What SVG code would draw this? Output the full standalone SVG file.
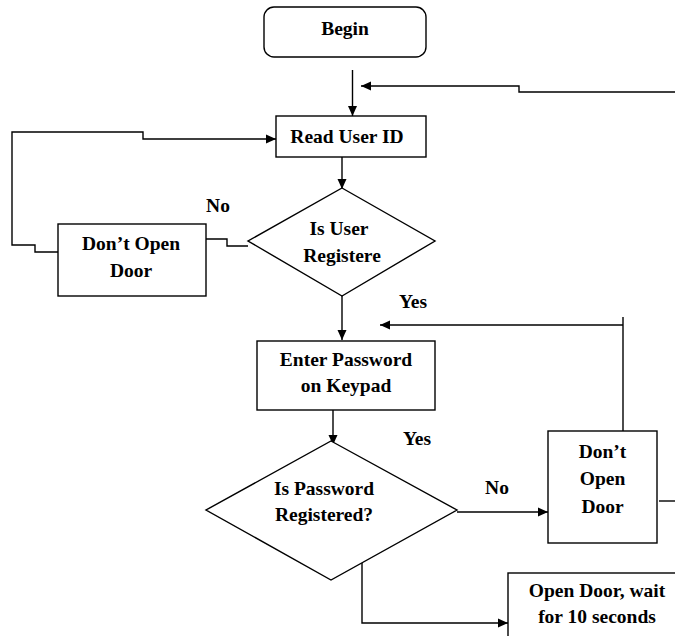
<svg xmlns="http://www.w3.org/2000/svg" width="675" height="636" viewBox="0 0 675 636">
  <style>
    .box { fill: #ffffff; stroke: #000000; stroke-width: 1.4; }
    .wire { fill: none; stroke: #000000; stroke-width: 1.4; }
    .lbl { font-family: "Liberation Serif", "Times New Roman", serif; font-weight: bold; font-size: 19.5px; fill: #000000; text-anchor: middle; }
  </style>
  <defs>
    <marker id="arrow" markerUnits="userSpaceOnUse" markerWidth="10" markerHeight="10" refX="10" refY="5" orient="auto">
      <path d="M0,0.5 L10,5 L0,9.5 z" fill="#000000"/>
    </marker>
  </defs>
  <rect width="675" height="636" fill="#ffffff"/>

  <!-- connectors -->
  <g id="connectors">
    <line class="wire" x1="352.5" y1="70" x2="352.5" y2="116" marker-end="url(#arrow)"/>
    <polyline class="wire" points="675,92 519,92 519,86 361,86" marker-end="url(#arrow)"/>
    <polyline class="wire" points="58,252 35,252 35,245 12,245 12,132 143,132 143,139 276,139" marker-end="url(#arrow)"/>
    <line class="wire" x1="342" y1="157" x2="342" y2="189" marker-end="url(#arrow)"/>
    <polyline class="wire" points="206,239 227,239 227,246 248,246"/>
    <line class="wire" x1="342" y1="296" x2="342" y2="340" marker-end="url(#arrow)"/>
    <line class="wire" x1="623" y1="317" x2="623" y2="438"/>
    <line class="wire" x1="623" y1="325" x2="380" y2="325" marker-end="url(#arrow)"/>
    <line class="wire" x1="333" y1="407" x2="333" y2="445" marker-end="url(#arrow)"/>
    <line class="wire" x1="457" y1="512" x2="548" y2="512" marker-end="url(#arrow)"/>
    <line class="wire" x1="659" y1="501" x2="675" y2="501"/>
    <polyline class="wire" points="362,563 362,623 508,623" marker-end="url(#arrow)"/>
  </g>

  <!-- nodes -->
  <g id="begin">
    <rect class="box" x="264" y="7" width="162" height="50" rx="10" ry="10"/>
    <text class="lbl" x="345" y="35">Begin</text>
  </g>

  <g id="read-user-id">
    <rect class="box" x="276" y="116" width="150" height="41"/>
    <text class="lbl" x="347" y="143">Read User ID</text>
  </g>

  <g id="is-user-registered">
    <polygon class="box" points="342,188 435,241 342,296 248,241"/>
    <text class="lbl" x="339" y="235">Is User</text>
    <text class="lbl" x="342" y="262">Registere</text>
  </g>

  <g id="dont-open-door-1">
    <rect class="box" x="58" y="224" width="148" height="72"/>
    <text class="lbl" x="131" y="250">Don’t Open</text>
    <text class="lbl" x="131" y="277">Door</text>
  </g>

  <g id="enter-password">
    <rect class="box" x="257" y="341" width="178" height="69"/>
    <text class="lbl" x="346" y="366">Enter Password</text>
    <text class="lbl" x="346" y="392">on Keypad</text>
  </g>

  <g id="is-password-registered">
    <polygon class="box" points="331,441 457,510 331,580 206,510"/>
    <text class="lbl" x="324" y="495">Is Password</text>
    <text class="lbl" x="324" y="521">Registered?</text>
  </g>

  <g id="dont-open-door-2">
    <rect class="box" x="548" y="431" width="109" height="112"/>
    <text class="lbl" x="602.5" y="458">Don’t</text>
    <text class="lbl" x="602.5" y="485">Open</text>
    <text class="lbl" x="602.5" y="513">Door</text>
  </g>

  <g id="open-door-wait">
    <rect class="box" x="508" y="573" width="190" height="90"/>
    <text class="lbl" x="597" y="597">Open Door, wait</text>
    <text class="lbl" x="597" y="623">for 10 seconds</text>
  </g>

  <!-- branch labels -->
  <g id="branch-labels">
    <text class="lbl" x="218" y="212">No</text>
    <text class="lbl" x="413" y="308">Yes</text>
    <text class="lbl" x="417" y="445">Yes</text>
    <text class="lbl" x="497" y="494">No</text>
  </g>
</svg>
